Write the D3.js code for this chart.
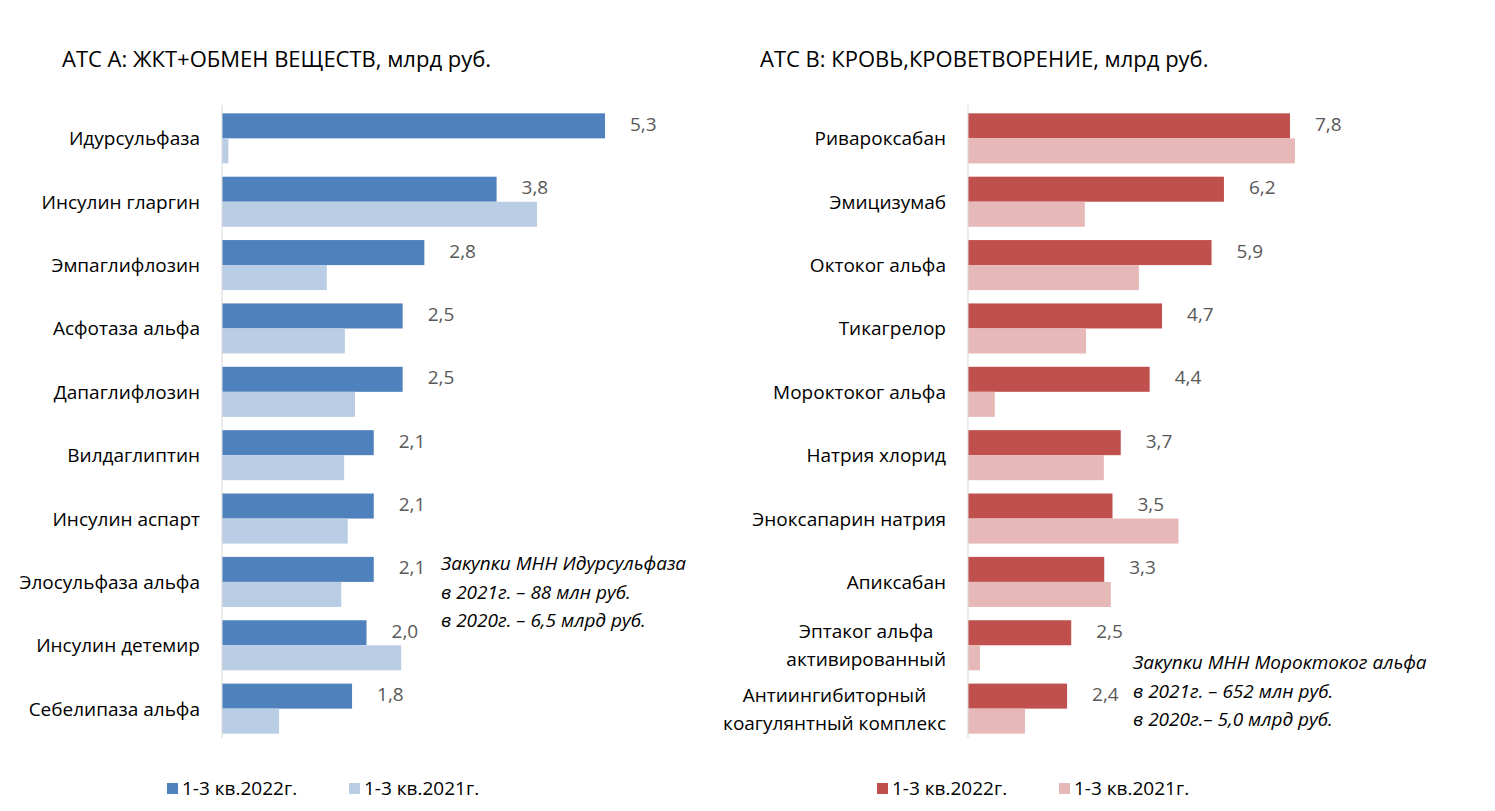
<!DOCTYPE html>
<html><head><meta charset="utf-8">
<script src="https://cdn.jsdelivr.net/npm/d3@7"></script>
<style>body{margin:0;background:#fff}text{font-family:"Open Sans","Noto Sans",sans-serif}</style>
</head><body><svg id="c" width="1495" height="811"></svg>
<script>
const catsA=["Идурсульфаза","Инсулин гларгин","Эмпаглифлозин","Асфотаза альфа","Дапаглифлозин","Вилдаглиптин","Инсулин аспарт","Элосульфаза альфа","Инсулин детемир","Себелипаза альфа"];
const a2022=[5.3,3.8,2.8,2.5,2.5,2.1,2.1,2.1,2.0,1.8];
const a2021=[0.088,4.36,1.45,1.7,1.84,1.69,1.74,1.65,2.48,0.79];
const catsB=["Ривароксабан","Эмицизумаб","Октоког альфа","Тикагрелор","Мороктоког альфа","Натрия хлорид","Эноксапарин натрия","Апиксабан","Эптаког альфа\nактивированный","Антиингибиторный\nкоагулянтный комплекс"];
const b2022=[7.8,6.2,5.9,4.7,4.4,3.7,3.5,3.3,2.5,2.4];
const b2021=[7.92,2.83,4.14,2.86,0.65,3.29,5.1,3.46,0.29,1.38];
const series=["1-3 кв.2022г.","1-3 кв.2021г."];
const svg=d3.select("#c");
function panel(o){
  const g=svg.append("g");
  const x=d3.scaleLinear().domain([0,o.max]).range([o.x0,o.x1]);
  const y=d3.scaleBand().domain(o.cats).range([107,740]).paddingInner(0.21).paddingOuter(0.1);
  const bh=y.bandwidth()/2;
  g.append("text").attr("x",o.tx).attr("y",67).attr("font-size",22).attr("fill","#000").text(o.title);
  o.cats.forEach((c,i)=>{
    const yy=y(c);
    g.append("rect").attr("x",x(0)).attr("y",yy).attr("width",x(o.v1[i])-x(0)).attr("height",bh).attr("fill",o.c1);
    g.append("rect").attr("x",x(0)).attr("y",yy+bh).attr("width",x(o.v2[i])-x(0)).attr("height",bh).attr("fill",o.c2);
    g.append("text").attr("x",x(o.v1[i])+25).attr("y",yy+bh/2+5).attr("font-size",19).attr("fill","#595959").text(d3.format(".1f")(o.v1[i]).replace(".",","));
    const lines=c.split("\n");
    if(lines.length===1){
      g.append("text").attr("x",x(0)-22).attr("y",yy+bh+7).attr("text-anchor","end").attr("font-size",19).attr("fill","#000").text(c);
    } else {
      const t=g.append("text").attr("font-size",19).attr("fill","#000").attr("text-anchor","middle");
      lines.forEach((l,j)=>t.append("tspan").attr("y",yy+bh+7+(j-0.5)*28).text(l));
      const w=d3.max(t.selectAll("tspan").nodes(),n=>n.getComputedTextLength());
      t.selectAll("tspan").attr("x",x(0)-22-w/2);
    }
  });
  g.append("line").attr("x1",x(0)).attr("x2",x(0)).attr("y1",105).attr("y2",738).attr("stroke","#d9d9d9");
  const t=g.append("text").attr("font-size",19).attr("font-style","italic").attr("fill","#000");
  o.note.forEach((l,j)=>t.append("tspan").attr("x",o.nx).attr("y",o.ny+j*28.5).text(l));
  [o.c1,o.c2].forEach((c,j)=>{
    const lx=o.lx+j*182;
    g.append("rect").attr("x",lx).attr("y",783).attr("width",11).attr("height",11).attr("fill",c);
    g.append("text").attr("x",lx+15).attr("y",795).attr("font-size",19).attr("fill","#000").text(series[j]);
  });
}
panel({cats:catsA,v1:a2022,v2:a2021,max:5.3,x0:222,x1:605,c1:"#4f81bd",c2:"#b9cde5",title:"АТС А: ЖКТ+ОБМЕН ВЕЩЕСТВ, млрд руб.",tx:62,
  note:["Закупки МНН Идурсульфаза","в 2021г. – 88 млн руб.","в 2020г. – 6,5 млрд руб."],nx:441,ny:570,lx:167});
panel({cats:catsB,v1:b2022,v2:b2021,max:7.8,x0:968,x1:1290,c1:"#c0504d",c2:"#e6b9b8",title:"АТС В: КРОВЬ,КРОВЕТВОРЕНИЕ, млрд руб.",tx:760,
  note:["Закупки МНН Мороктоког альфа","в 2021г. – 652 млн руб.","в 2020г.– 5,0 млрд руб."],nx:1133,ny:669,lx:877});
</script></body></html>
